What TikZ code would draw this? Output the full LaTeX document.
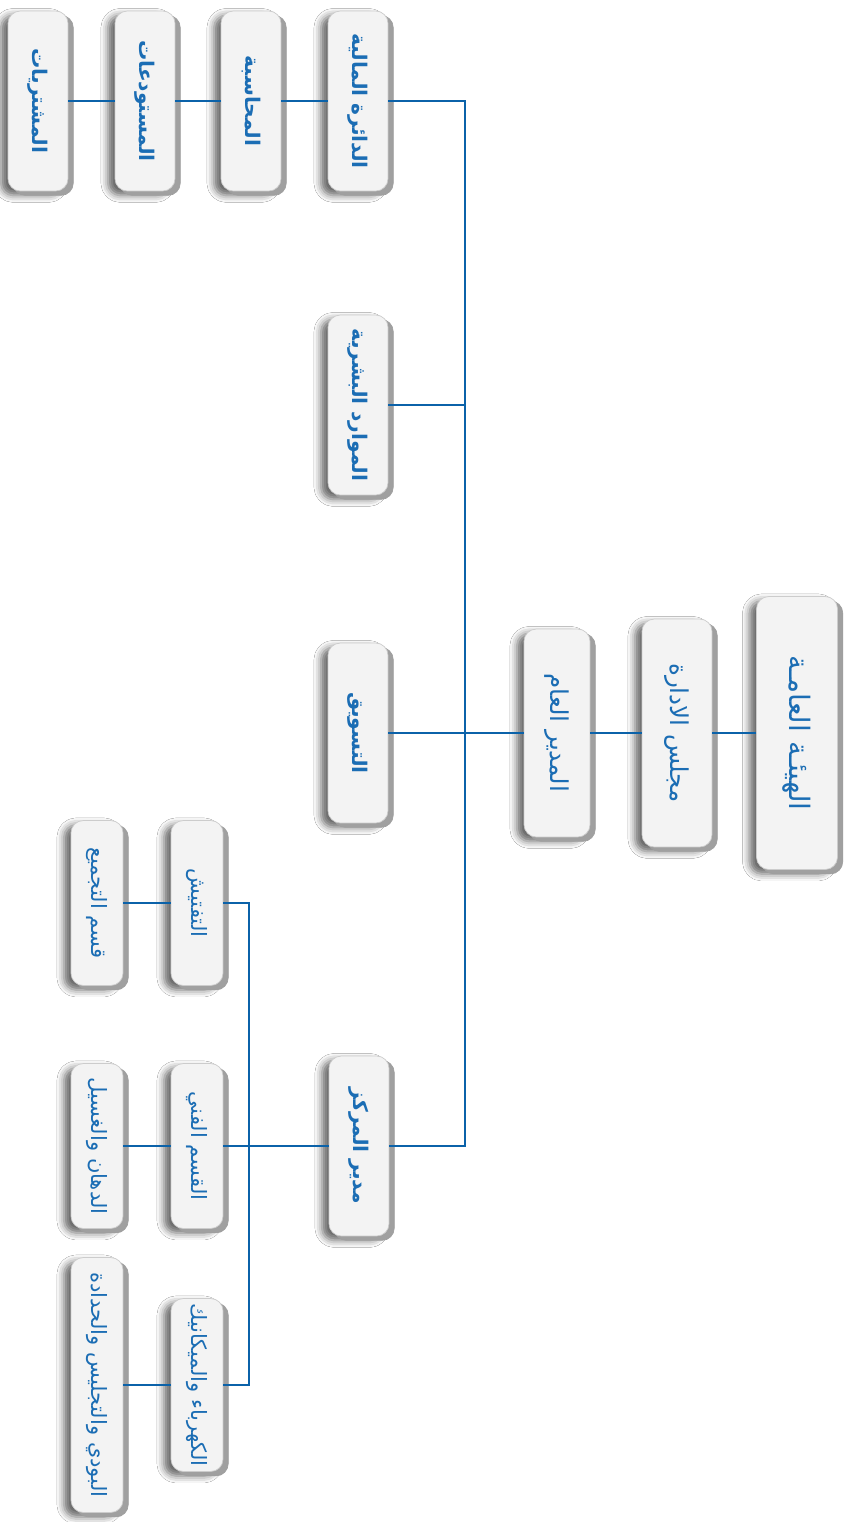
\documentclass[tikz,border=0pt]{standalone}
\usepackage{fontspec}
\usepackage{graphicx}
\usetikzlibrary{shadows,shadows.blur}
\TeXXeTstate=1
\newfontfamily\arabicfont[Script=Arabic]{DejaVu Sans}
\newcommand\artext[1]{\rotatebox{-90}{\beginR #1\endR}}
\definecolor{linkblue}{HTML}{0B62A9}
\definecolor{txtblue}{HTML}{1B6DB4}
\definecolor{boxface}{HTML}{F3F3F3}
\definecolor{boxside}{HTML}{A0A0A0}
\tikzset{
  unit/.style={draw=gray!40, line width=0.4pt, fill=boxface, rounded corners=7pt,
    text=txtblue, inner sep=0pt,
    blur shadow={shadow xshift=-4pt, shadow yshift=-2.5pt, shadow blur radius=4pt,
      shadow opacity=60},
    copy shadow={shadow xshift=3pt, shadow yshift=-2.5pt, fill=boxside, draw=gray!75}},
  dept/.style={unit, minimum width=1.2cm, minimum height=3.6cm,
    font=\arabicfont\bfseries\fontsize{11.5}{14}\selectfont},
  sect/.style={unit, minimum width=1.04cm, minimum height=3.3cm,
    font=\arabicfont\fontsize{12}{14}\selectfont},
  link/.style={draw=linkblue, line width=1.2pt}
}
\begin{document}
\begin{tikzpicture}[x=0.02cm,y=-0.02cm]
  \useasboundingbox[fill=white] (0,0) rectangle (857,1522);
  \node[unit, minimum width=1.62cm, minimum height=5.46cm,
    font=\arabicfont\fontsize{16}{19}\selectfont] (haya) at (797,733) {\artext{الهيئـة العامـة}};
  \node[unit, minimum width=1.4cm, minimum height=4.56cm,
    font=\arabicfont\fontsize{14}{17}\selectfont] (majlis) at (677,733) {\artext{مجلس الادارة}};
  \node[unit, minimum width=1.32cm, minimum height=4.16cm,
    font=\arabicfont\fontsize{14}{17}\selectfont] (mudir) at (557,733) {\artext{المدير العام}};
  \foreach \nm/\xx/\tx in {maliya/358/{الدائرة المالية}, muhasaba/251/المحاسبة,
      mustawdaat/145/المستودعات, mushtariyat/38/المشتريات}
    \node[dept] (\nm) at (\xx,101) {\artext{\tx}};
  \node[dept] (mawarid) at (358,405) {\artext{الموارد البشرية}};
  \node[dept] (taswiq) at (358,733) {\artext{التسويق}};
  \node[dept] (markaz) at (359,1146) {\artext{مدير المركز}};
  \foreach \nm/\yy/\tx in {taftish/903/التفتيش, fanni/1146/{القسم الفني}}
    \node[sect] (\nm) at (197,\yy) {\artext{\tx}};
  \node[sect, minimum height=3.46cm] (kahraba) at (197,1385) {\artext{الكهرباء والميكانيك}};
  \foreach \nm/\yy/\tx in {tajmi/903/{قسم التجميع}, dihan/1146/{الدهان والغسيل}}
    \node[sect] (\nm) at (97,\yy) {\artext{\tx}};
  \node[sect, minimum height=5.1cm] (body) at (97,1385) {\artext{البودي والتجليس والحدادة}};
  \coordinate (t1) at (465,101);
  \coordinate (t2) at (465,1146);
  \coordinate (s1) at (249,903);
  \coordinate (s2) at (249,1385);
  \draw[link] (haya.west) -- (majlis.east);
  \draw[link] (majlis.west) -- (mudir.east);
  \draw[link] (mudir.west) -- (taswiq.east);
  \draw[link] (maliya.east) -- (t1) -- (t2) -- (markaz.east);
  \draw[link] (mawarid.east) -- (mawarid.east -| t1);
  \draw[link] (maliya.west) -- (muhasaba.east);
  \draw[link] (muhasaba.west) -- (mustawdaat.east);
  \draw[link] (mustawdaat.west) -- (mushtariyat.east);
  \draw[link] (markaz.west) -- (fanni.east);
  \draw[link] (taftish.east) -- (s1) -- (s2) -- (kahraba.east);
  \draw[link] (taftish.west) -- (tajmi.east);
  \draw[link] (fanni.west) -- (dihan.east);
  \draw[link] (kahraba.west) -- (body.east);
\end{tikzpicture}
\end{document}
